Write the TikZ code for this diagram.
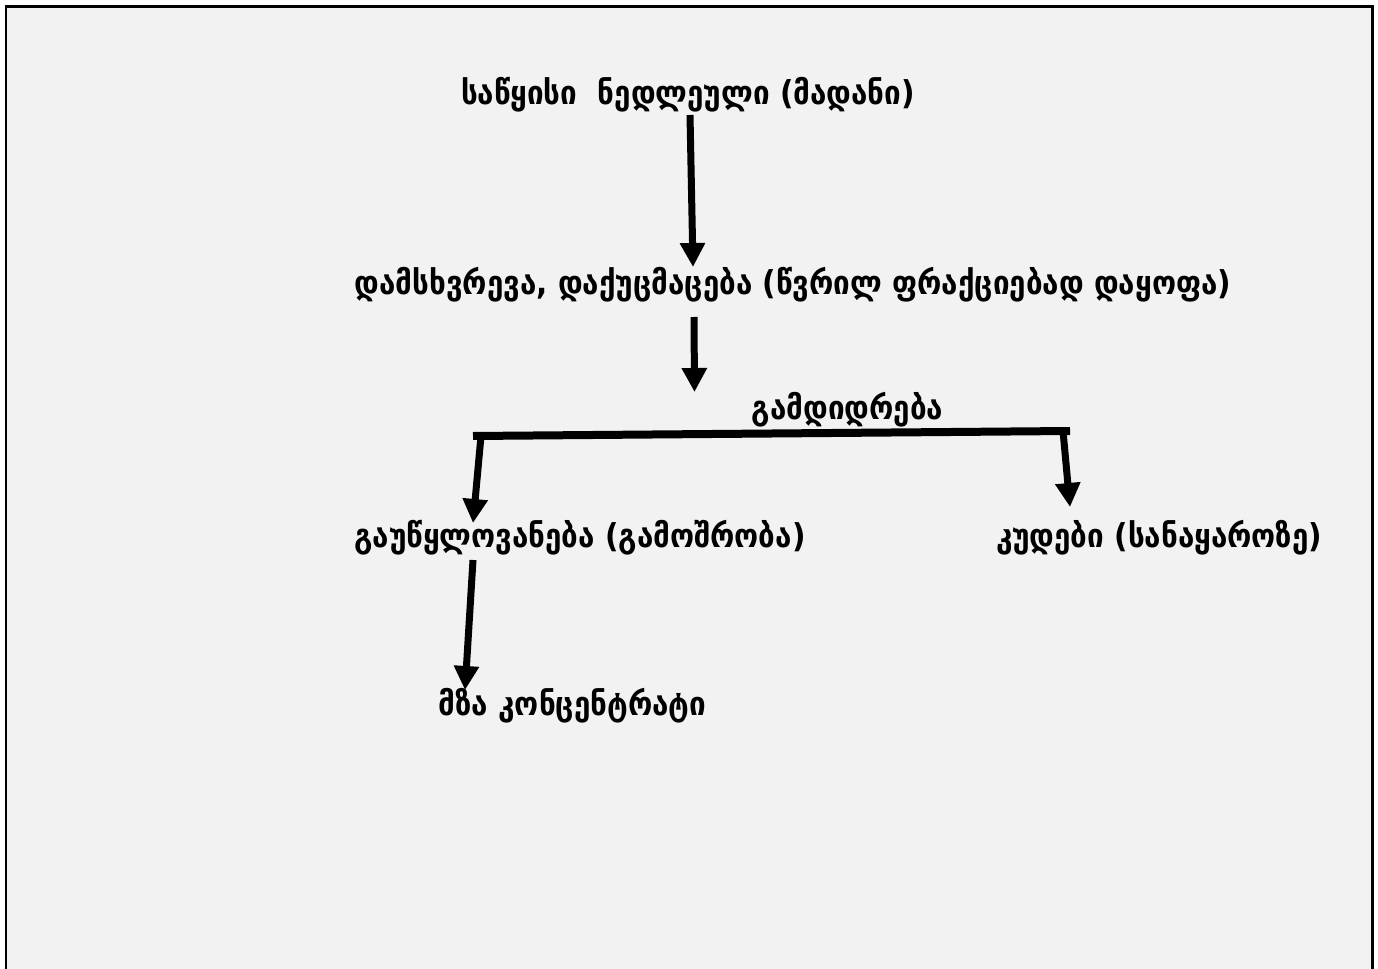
\documentclass[tikz,border=0pt]{standalone}
\usepackage{fontspec}
\newfontfamily\geofont{DejaVu Sans Condensed}
\usepackage{tikz}
\usetikzlibrary{arrows.meta,positioning,calc}
\definecolor{bgcol}{HTML}{F2F2F2}

\begin{document}
\begin{tikzpicture}[x=0.02cm,y=-0.02cm,
    lbl/.style={inner sep=0pt,font=\geofont\bfseries\fontsize{18.7}{21}\selectfont},
    flow/.style={line width=0.14cm,-{Triangle[length=0.48cm,width=0.48cm]}}]
      \useasboundingbox (0,0) rectangle (1378,969);
      \fill[white] (0,0) rectangle (1378,969);
      \draw[line width=0.06cm,fill=bgcol] (6,990) -- (6,7) -- (1372,7) -- (1372,990);

      \coordinate (raw) at (688,95);
      \coordinate (crush) at (793,285);
      \coordinate (enrich) at (847.5,410);
      \coordinate (dry) at (580,538);
      \coordinate (tail) at (1159,538);
      \coordinate (conc) at (572.5,706);
      \coordinate (bl) at (473,436);
      \coordinate (br) at (1070,431);

      \node[lbl] (rawn) at (raw) {საწყისი\ \ ნედლეული (მადანი)};
      \node[lbl] (crushn) at (crush) {დამსხვრევა, დაქუცმაცება (წვრილ ფრაქციებად დაყოფა)};
      \node[lbl] (enrichn) at (enrich) {გამდიდრება};
      \node[lbl] (dryn) at (dry) {გაუწყლოვანება (გამოშრობა)};
      \node[lbl] (tailn) at (tail) {კუდები (სანაყაროზე)};
      \node[lbl] (concn) at (conc) {მზა კონცენტრატი};

      \draw[flow] ([shift={(2,20)}]rawn.center) -- ([shift={(-100,-18)}]crushn.center);
      \draw[flow] ([shift={(-99,32)}]crushn.center) -- ([shift={(-153,-18)}]enrichn.center);
      \draw[line width=0.16cm] (bl) -- (br);
      \draw[flow] ([shift={(8,0)}]bl) -- ([shift={(-107,-15)}]dryn.center);
      \draw[flow] ([shift={(-7,0)}]br) -- ([shift={(-89,-31)}]tailn.center);
      \draw[flow] ([shift={(-107,22)}]dryn.center) -- ([shift={(-107.5,-16)}]concn.center);

    \end{tikzpicture}
\end{document}
